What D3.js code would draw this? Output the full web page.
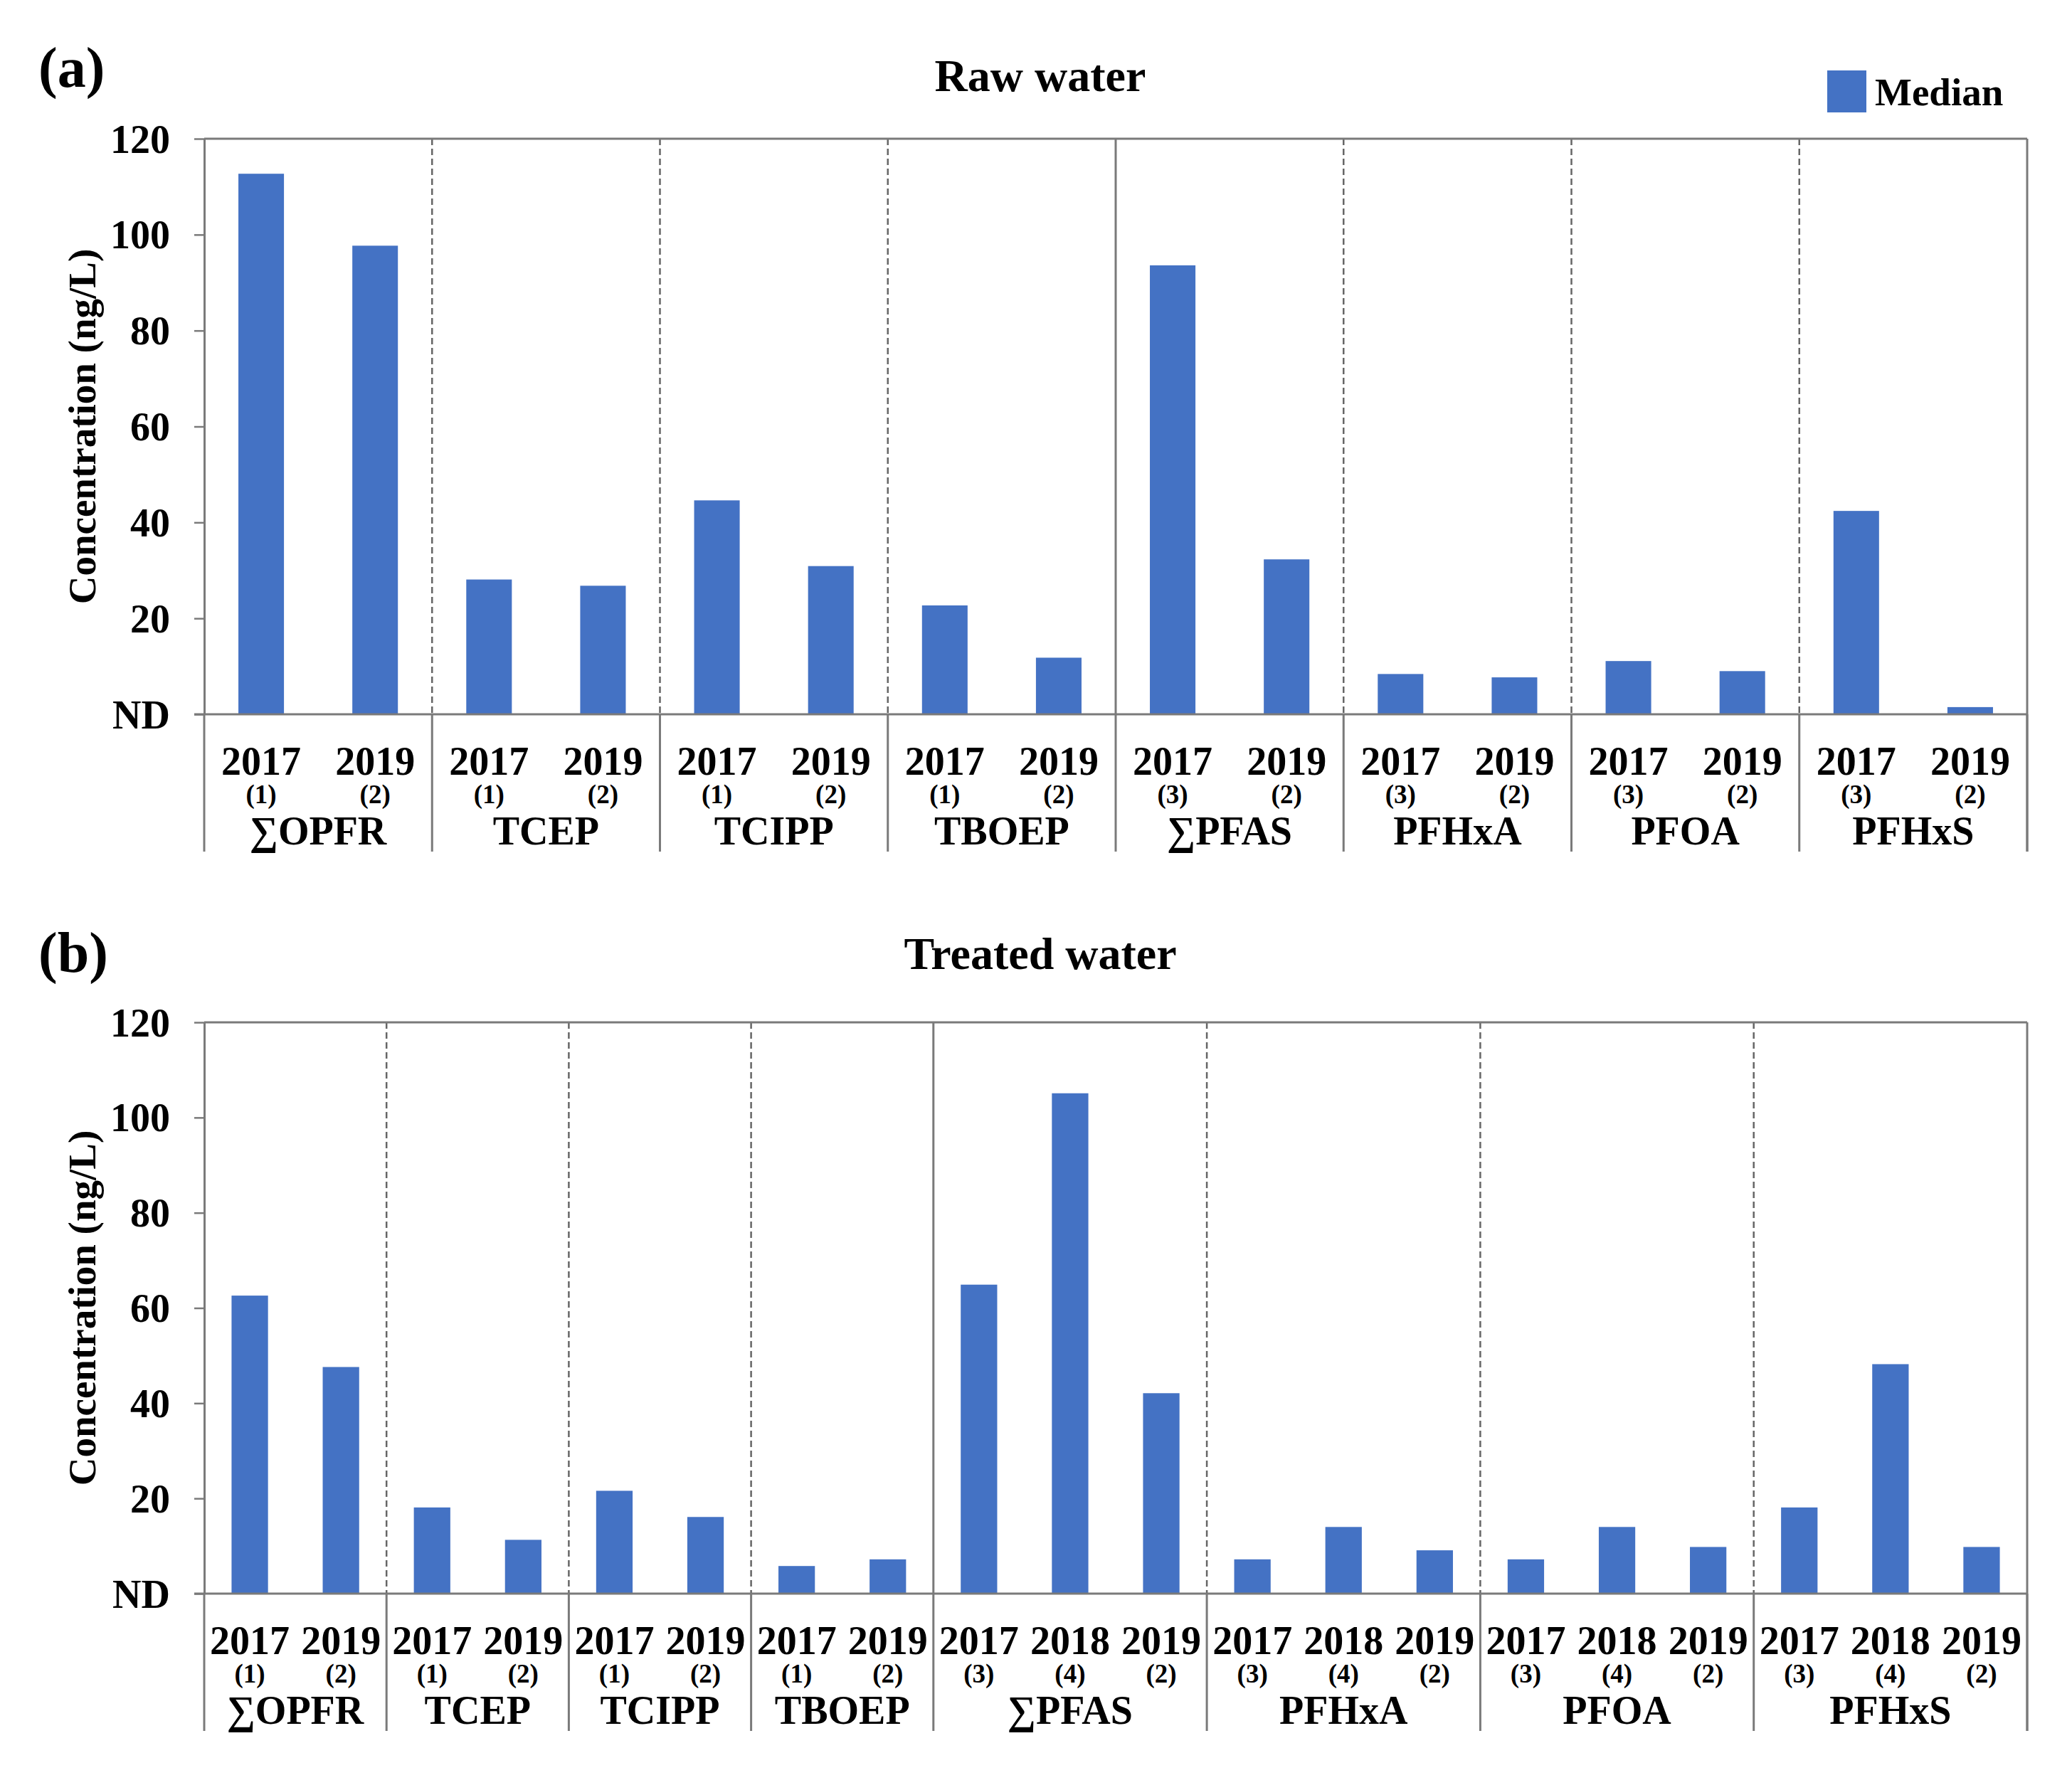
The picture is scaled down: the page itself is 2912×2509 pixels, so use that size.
<!DOCTYPE html>
<html>
<head>
<meta charset="utf-8">
<script src="https://cdn.jsdelivr.net/npm/d3@7"></script>
<style>
	body { margin: 0; background: #fff; }
	svg text { font-family: "Liberation Serif", "Times New Roman", serif; font-weight: bold; fill: #000; }
</style>
</head>
<body>
<svg id="chart" width="2912" height="2509"></svg>
<script>
var compounds = ['∑OPFR', 'TCEP', 'TCIPP', 'TBOEP', '∑PFAS', 'PFHxA', 'PFOA', 'PFHxS'];
var yTicks = [0, 20, 40, 60, 80, 100, 120];

// (a) raw water
var rawGroupSize = [2, 2, 2, 2, 2, 2, 2, 2];
var rawYears = ['2017', '2019', '2017', '2019', '2017', '2019', '2017', '2019',
	'2017', '2019', '2017', '2019', '2017', '2019', '2017', '2019'];
var rawNotes = ['(1)', '(2)', '(1)', '(2)', '(1)', '(2)', '(1)', '(2)',
	'(3)', '(2)', '(3)', '(2)', '(3)', '(2)', '(3)', '(2)'];
var rawMedian = [112.7, 97.7, 28.1, 26.8, 44.6, 30.9, 22.7, 11.8,
	93.6, 32.3, 8.4, 7.7, 11.1, 9.0, 42.4, 1.5];

// (b) treated water
var treatedGroupSize = [2, 2, 2, 2, 3, 3, 3, 3];
var treatedYears = ['2017', '2019', '2017', '2019', '2017', '2019', '2017', '2019',
	'2017', '2018', '2019', '2017', '2018', '2019', '2017', '2018', '2019', '2017', '2018', '2019'];
var treatedNotes = ['(1)', '(2)', '(1)', '(2)', '(1)', '(2)', '(1)', '(2)',
	'(3)', '(4)', '(2)', '(3)', '(4)', '(2)', '(3)', '(4)', '(2)', '(3)', '(4)', '(2)'];
var treatedMedian = [62.6, 47.6, 18.1, 11.3, 21.6, 16.1, 5.8, 7.2,
	64.9, 105.1, 42.1, 7.2, 14.0, 9.1, 7.2, 14.0, 9.8, 18.1, 48.2, 9.8];

var barColor = '#4472C4',
	lineColor = '#7a7a7a',
	left = 287,
	right = 2849;

var svg = d3.select('#chart');

var drawPanel = function(p) {
	var n = p.values.length,
		g = svg.append('g'),
		i = 0, k = 0,
		edges = [0];

	var x = d3.scaleBand().domain(d3.range(n)).range([left, right])
		.paddingInner(0.6).paddingOuter(0.3);
	var y = d3.scaleLinear().domain([0, 120]).range([p.nd, p.top]);
	var bottom = p.nd + 193;

	for (i = 0; i < p.groupSize.length; i++) {
		k += p.groupSize[i];
		edges.push(k);
	}
	var edgeX = function(e) {
		return e < n ? x(e) - (x.step() - x.bandwidth()) / 2 : right;
	};

	// separators inside the plot, solid one between the OPFR and PFAS blocks
	g.selectAll('.sep').data(edges.slice(1, -1)).join('line')
		.attr('x1', edgeX).attr('x2', edgeX)
		.attr('y1', p.top).attr('y2', p.nd)
		.attr('stroke', function(e, j) { return j == 3 ? lineColor : '#666'; })
		.attr('stroke-width', function(e, j) { return j == 3 ? 3 : 2.5; })
		.attr('stroke-dasharray', function(e, j) { return j == 3 ? null : '9,5'; });

	// category box lines under the axis
	g.selectAll('.cat').data(edges).join('line')
		.attr('x1', edgeX).attr('x2', edgeX)
		.attr('y1', p.nd).attr('y2', bottom)
		.attr('stroke', lineColor).attr('stroke-width', 3);

	g.selectAll('rect').data(p.values).join('rect')
		.attr('x', function(d, j) { return x(j); })
		.attr('y', function(d) { return y(d); })
		.attr('width', x.bandwidth())
		.attr('height', function(d) { return y(0) - y(d); })
		.attr('fill', barColor);

	// frame
	g.append('line').attr('x1', left).attr('x2', right).attr('y1', p.top).attr('y2', p.top)
		.attr('stroke', lineColor).attr('stroke-width', 3);
	g.append('line').attr('x1', right).attr('x2', right).attr('y1', p.top).attr('y2', bottom)
		.attr('stroke', lineColor).attr('stroke-width', 3);
	g.append('line').attr('x1', left - 14).attr('x2', right).attr('y1', p.nd).attr('y2', p.nd)
		.attr('stroke', lineColor).attr('stroke-width', 3);

	var yAxis = g.append('g')
		.attr('transform', 'translate(' + left + ',0)')
		.call(d3.axisLeft(y).tickValues(yTicks)
			.tickFormat(function(d) { return d === 0 ? 'ND' : d; })
			.tickSize(14).tickSizeOuter(0).tickPadding(34));
	yAxis.select('.domain').attr('stroke', lineColor).attr('stroke-width', 3);
	yAxis.selectAll('.tick line').attr('stroke', lineColor).attr('stroke-width', 2.5);
	yAxis.selectAll('.tick text')
		.attr('font-family', null).attr('font-size', 56).attr('dy', '0.34em');

	g.append('text')
		.attr('transform', 'translate(134,' + (p.top + p.nd) / 2 + ') rotate(-90)')
		.attr('text-anchor', 'middle').attr('font-size', 55)
		.text('Concentration (ng/L)');

	// multi-level category labels
	g.selectAll('.yr').data(p.years).join('text')
		.attr('x', function(d, j) { return x(j) + x.bandwidth() / 2; })
		.attr('y', p.nd + 85)
		.attr('text-anchor', 'middle').attr('font-size', 56)
		.text(function(d) { return d; });
	g.selectAll('.note').data(p.notes).join('text')
		.attr('x', function(d, j) { return x(j) + x.bandwidth() / 2; })
		.attr('y', p.nd + 125)
		.attr('text-anchor', 'middle').attr('font-size', 37)
		.text(function(d) { return d; });
	g.selectAll('.cmp').data(compounds).join('text')
		.attr('x', function(d, j) { return (edgeX(edges[j]) + edgeX(edges[j + 1])) / 2; })
		.attr('y', p.nd + 183)
		.attr('text-anchor', 'middle').attr('font-size', 56)
		.text(function(d) { return d; });

	g.append('text').attr('x', 1462).attr('y', p.titleY)
		.attr('text-anchor', 'middle').attr('font-size', 64)
		.text(p.title);
	g.append('text').attr('x', 54).attr('y', p.tagY)
		.attr('font-size', 80)
		.text(p.tag);
};

drawPanel({
	top: 195, nd: 1004, titleY: 128, tagY: 122,
	title: 'Raw water', tag: '(a)',
	values: rawMedian, years: rawYears, notes: rawNotes, groupSize: rawGroupSize
});

drawPanel({
	top: 1437, nd: 2240, titleY: 1362, tagY: 1366,
	title: 'Treated water', tag: '(b)',
	values: treatedMedian, years: treatedYears, notes: treatedNotes, groupSize: treatedGroupSize
});

// legend
svg.append('rect').attr('x', 2568).attr('y', 99).attr('width', 55).attr('height', 59)
	.attr('fill', barColor);
svg.append('text').attr('x', 2635).attr('y', 148).attr('font-size', 55).text('Median');
</script>
</body>
</html>
